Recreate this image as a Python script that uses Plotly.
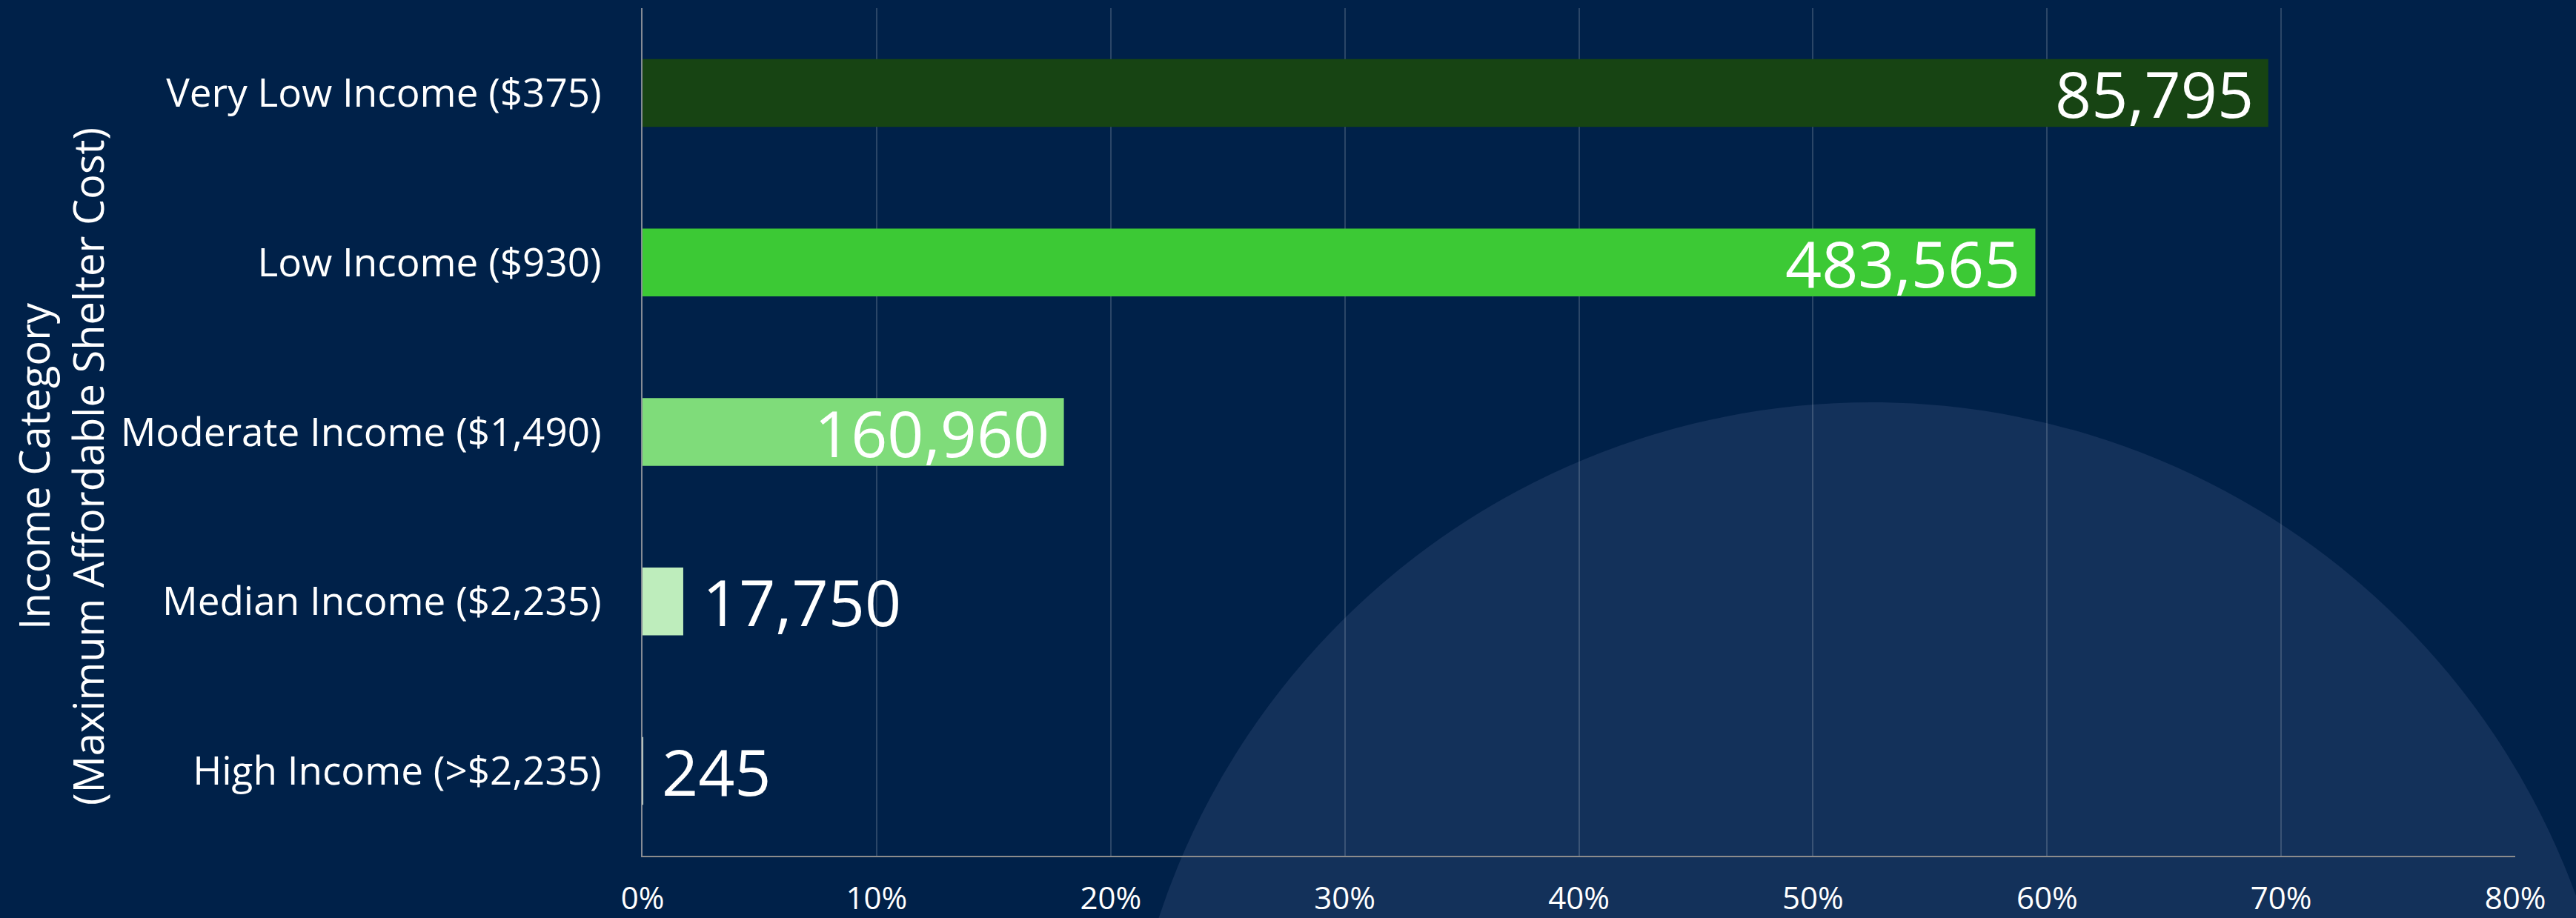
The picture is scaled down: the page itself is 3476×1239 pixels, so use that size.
import plotly.graph_objects as go

# ---- data ----
categories = [
    "Very Low Income ($375)",
    "Low Income ($930)",
    "Moderate Income ($1,490)",
    "Median Income ($2,235)",
    "High Income (>$2,235)",
]
share_pct = [69.45, 59.5, 18.0, 1.74, 0.01]
households = [85795, 483565, 160960, 17750, 245]
bar_colors = ["#174413", "#3CC935", "#7FDC7A", "#BEEDBC", "#E3F6E2"]
x_ticks = [0, 10, 20, 30, 40, 50, 60, 70, 80]
y_title = "Income Category<br>(Maximum Affordable Shelter Cost)"

BG = "#002149"
FONT = "Open Sans"

fig = go.Figure()
fig.add_trace(go.Bar(
    y=categories,
    x=share_pct,
    orientation="h",
    marker=dict(color=bar_colors, line=dict(width=0)),
    hoverinfo="skip",
    showlegend=False,
))

annotations = []
for cat, v, n in zip(categories, share_pct, households):
    inside = v > 10
    annotations.append(dict(
        x=v, y=cat, xref="x", yref="y",
        text=f"{n:,}",
        showarrow=False,
        xanchor="right" if inside else "left",
        yanchor="middle",
        xshift=-18 if inside else 24,
        font=dict(family=FONT, size=86, color="white"),
    ))

annotations.append(dict(
    x=-0.3106, y=0.459, xref="paper", yref="paper",
    text=y_title, textangle=-90, showarrow=False,
    xanchor="center", yanchor="middle",
    font=dict(family=FONT, size=56, color="white"),
))

fig.update_layout(
    width=3476, height=1239,
    paper_bgcolor=BG,
    plot_bgcolor="rgba(0,0,0,0)",
    margin=dict(l=867, r=82, t=11, b=84, autoexpand=False),
    bargap=0.6,
    annotations=annotations,
    shapes=[dict(
        type="circle", xref="paper", yref="paper",
        x0=0.2556, x1=1.0566, y0=-1.2343, y1=0.535,
        fillcolor="#13315A", line=dict(width=0), layer="below",
    )],
    font=dict(family=FONT, color="white"),
)

fig.update_xaxes(
    range=[0, 80],
    tickvals=x_ticks,
    ticktext=[f"{t}%" for t in x_ticks],
    tickfont=dict(family=FONT, size=42, color="white"),
    showgrid=True,
    gridcolor="rgba(255,255,255,0.17)",
    gridwidth=1.5,
    zeroline=False,
    showline=True,
    linecolor="#8c8c8c",
    linewidth=2,
    ticks="",
    ticklabelstandoff=20,
)
fig.update_yaxes(
    autorange="reversed",
    tickfont=dict(family=FONT, size=53, color="white"),
    showgrid=False,
    zeroline=False,
    showline=True,
    linecolor="#858b95",
    linewidth=1.5,
    ticks="",
    ticklabelstandoff=43,
)

fig.write_html("out.html")
